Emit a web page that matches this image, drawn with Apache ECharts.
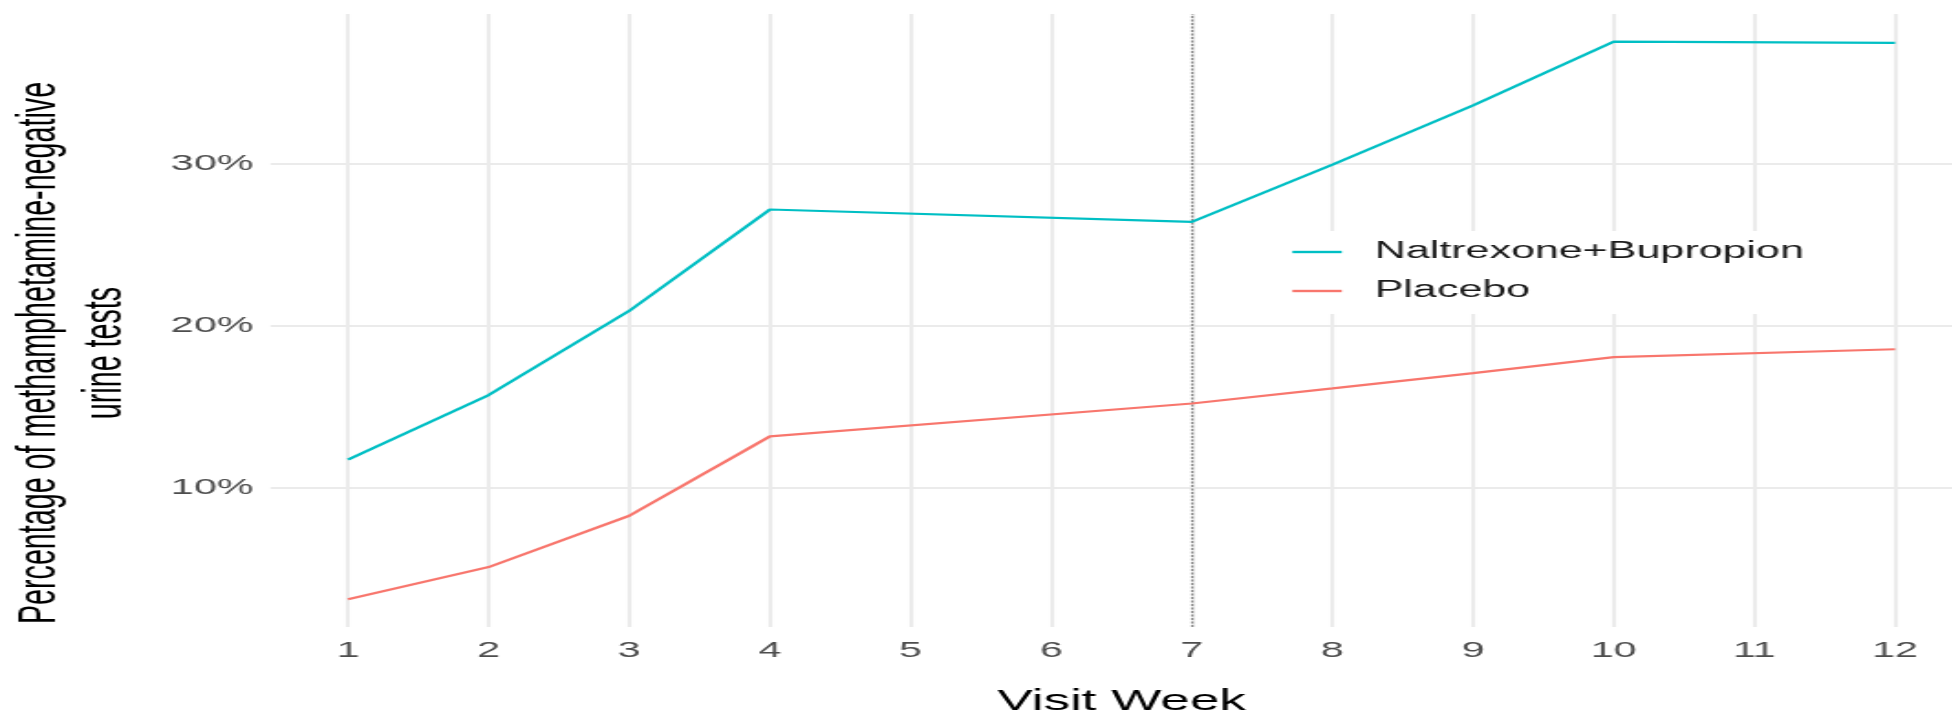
<!DOCTYPE html>
<html>
<head>
<meta charset="utf-8">
<script src="https://cdn.jsdelivr.net/npm/echarts@6/dist/echarts.min.js"></script>
<style>
  html, body { margin: 0; padding: 0; background: #ffffff; overflow: hidden; }
  #wrap { width: 1952px; height: 721px; overflow: hidden; position: relative; }
  #chart { position: absolute; left: 0; top: 0; height: 721px; transform-origin: 0 0; }
</style>
</head>
<body>
<div id="wrap"><div id="chart"></div></div>
<script>
// ---- data ----
const weeks = [1, 2, 3, 4, 7, 8, 9, 10, 12];
const naltrexoneBupropion = [11.74, 15.72, 20.92, 27.18, 26.41, 29.95, 33.61, 37.55, 37.47];
const placebo = [3.12, 5.10, 8.27, 13.17, 15.20, 16.13, 17.08, 18.06, 18.55];
const xTickValues = [1, 2, 3, 4, 5, 6, 7, 8, 9, 10, 11, 12];
const yTickValues = [10, 20, 30];
const seriesNames = ['Naltrexone+Bupropion', 'Placebo'];
const markerWeek = 7;

// ---- layout (the reference is stretched horizontally) ----
const STRETCH = 1.83;
const W = 1100; // wider than 1952/STRETCH so the plot panel can run past the right edge
const el = document.getElementById('chart');
el.style.width = W + 'px';
el.style.transform = 'scaleX(' + STRETCH + ')';

const FONT = "'Liberation Sans', Arial, Helvetica, sans-serif";
const gridLeft = 147.9, gridWidth = 929.9;

const chart = echarts.init(el, null, { renderer: 'canvas' });
const pairs = (ys) => weeks.map((w, i) => [w, ys[i]]);

chart.setOption({
  animation: false,
  backgroundColor: '#ffffff',
  grid: { left: gridLeft, width: gridWidth, top: 14, bottom: 89, containLabel: false },
  xAxis: {
    type: 'value', min: 0.45, max: 12.55,
    axisLine: { show: false }, axisTick: { show: false }, splitLine: { show: false },
    axisLabel: {
      customValues: xTickValues, margin: 12, color: '#4D4D4D',
      fontFamily: FONT, fontSize: 22.5, formatter: (v) => String(v)
    },
    name: 'Visit Week', nameLocation: 'middle', nameGap: 60,
    nameTextStyle: { color: '#000000', fontFamily: FONT, fontSize: 29 }
  },
  yAxis: {
    type: 'value', min: 1.4, max: 39.25,
    axisLine: { show: false }, axisTick: { show: false }, splitLine: { show: false },
    axisLabel: {
      customValues: yTickValues, margin: 9.5, color: '#4D4D4D',
      fontFamily: FONT, fontSize: 22.5, formatter: (v) => v + '%'
    }
  },
  legend: {
    data: seriesNames, z: 10,
    orient: 'vertical', left: 699, top: 231,
    padding: [8, 6, 10, 6],
    backgroundColor: '#ffffff',
    itemWidth: 27, itemHeight: 14, itemGap: 13,
    itemStyle: { opacity: 0 },
    lineStyle: { width: 2.4 },
    textStyle: { color: '#1a1a1a', fontFamily: FONT, fontSize: 23.5, lineHeight: 26, padding: [0, 0, 0, 13] }
  },
  graphic: [{
    type: 'text', x: 40.4, y: 353, rotation: Math.PI / 2, z: 10,
    style: {
      text: 'Percentage of methamphetamine-negative\nurine tests',
      align: 'center', verticalAlign: 'middle',
      font: '28.7px ' + FONT, lineHeight: 35.9, fill: '#000000'
    }
  }],
  series: [
    {
      name: '_grid', type: 'line', data: [], z: 1, silent: true,
      markLine: {
        z: 1, silent: true, symbol: ['none', 'none'], label: { show: false }, animation: false,
        data: yTickValues.map(v => ({ yAxis: v, lineStyle: { color: '#EBEBEB', width: 1.9, type: 'solid' } }))
          .concat(xTickValues.map(v => ({ xAxis: v, lineStyle: { color: '#EBEBEB', width: 2.1, type: 'solid' } })))
      }
    },
    {
      name: '_marker', type: 'line', data: [], z: 2, silent: true,
      markLine: {
        z: 2, silent: true, symbol: ['none', 'none'], label: { show: false }, animation: false,
        data: [{ xAxis: markerWeek, lineStyle: { color: '#8a8a8a', width: 1.3, type: [2, 1.5] } }]
      }
    },
    {
      name: seriesNames[0], type: 'line', data: pairs(naltrexoneBupropion), z: 3,
      showSymbol: false, symbol: 'none', color: '#00BFC4',
      lineStyle: { color: '#00BFC4', width: 2.2 }
    },
    {
      name: seriesNames[1], type: 'line', data: pairs(placebo), z: 3,
      showSymbol: false, symbol: 'none', color: '#F8766D',
      lineStyle: { color: '#F8766D', width: 2.2 }
    }
  ]
});
</script>
</body>
</html>
